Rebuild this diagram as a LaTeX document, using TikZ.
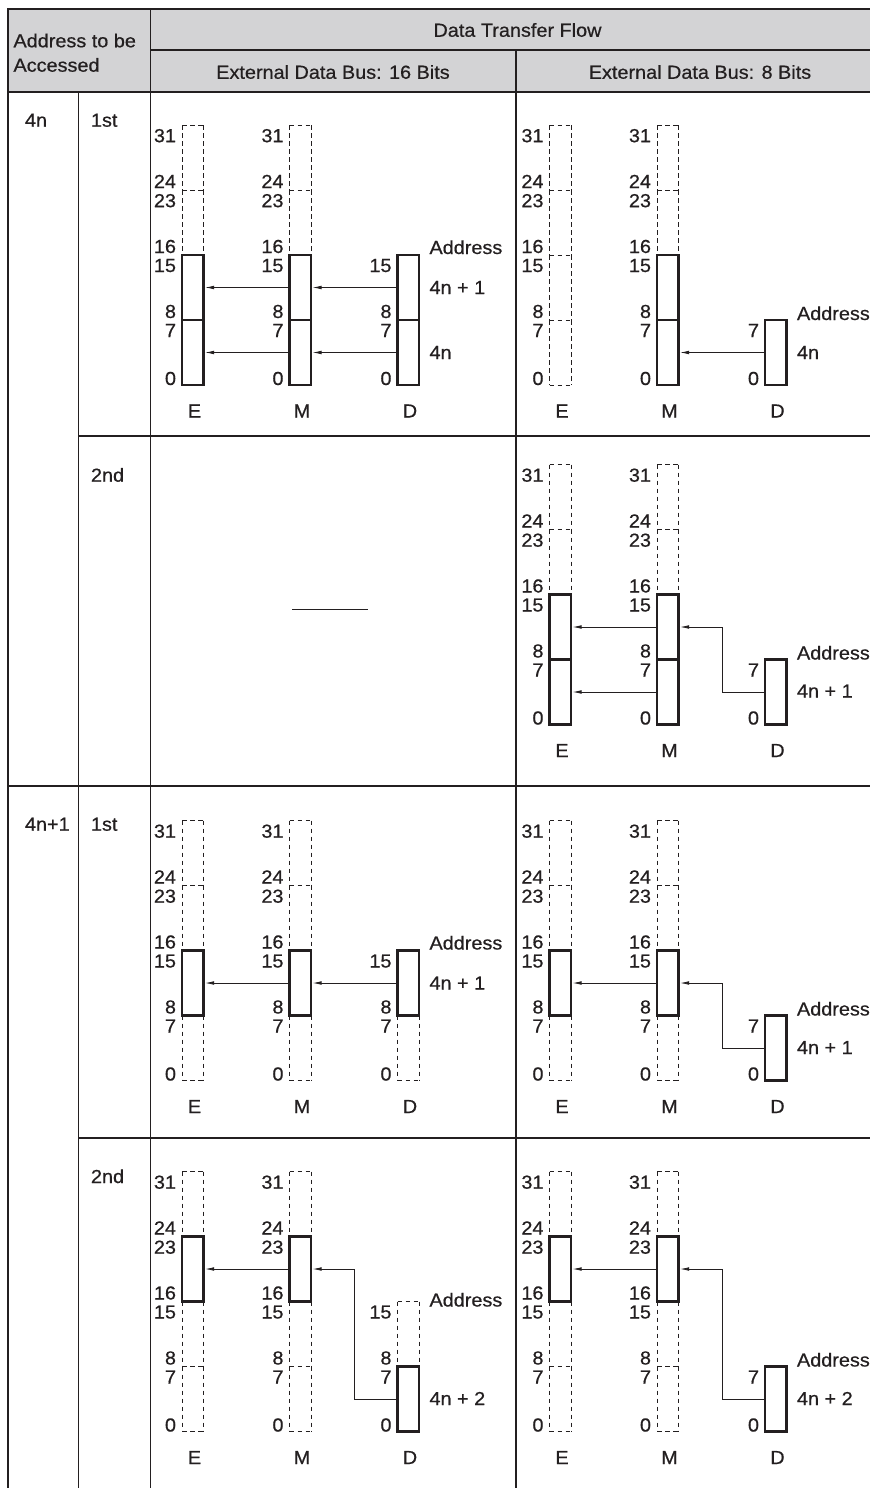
\documentclass[tikz,border=0pt]{standalone}
\usepackage{fontspec}
\setmainfont{Liberation Sans}[FakeStretch=1.05,FakeBold=0.6]
\usetikzlibrary{arrows.meta}
\definecolor{ink}{RGB}{35,31,32}
\definecolor{hdr}{RGB}{211,211,213}
\tikzset{
  tline/.style={draw=ink, line width=1.2pt},
  hline/.style={draw=ink, line width=1.6pt},
  outer/.style={draw=ink, line width=2.4pt},
  dashbox/.style={draw=ink, line width=0.9pt, dash pattern=on 4.5pt off 3.5pt},
  solidbox/.style={draw=ink, line width=2.2pt},
  arr/.style={draw=ink, line width=0.8pt, -{Latex[length=9pt,width=3.6pt]}},
  lbl/.style={inner sep=0pt, outer sep=0pt, text=ink},
}
\newcommand{\lo}[4]{\node[lbl, anchor=north east] (#1) at ({#2-6},{#3+4}) {#4};}
\newcommand{\hi}[4]{\node[lbl, anchor=base east] (#1) at ({#2-6},{#3-2}) {#4};}
\newcommand{\lblfull}[3]{%
  \lo{#1-31}{#2}{#3}{31}\hi{#1-24}{#2}{#3+65}{24}\lo{#1-23}{#2}{#3+65}{23}%
  \hi{#1-16}{#2}{#3+130}{16}\lo{#1-15}{#2}{#3+130}{15}%
  \hi{#1-8}{#2}{#3+195}{8}\lo{#1-7}{#2}{#3+195}{7}%
  \node[lbl, anchor=base east] (#1-0) at ({#2-6},{#3+260}) {0};}
\newcommand{\lblsixteen}[3]{%
  \lo{#1-15}{#2}{#3+130}{15}%
  \hi{#1-8}{#2}{#3+195}{8}\lo{#1-7}{#2}{#3+195}{7}%
  \node[lbl, anchor=base east] (#1-0) at ({#2-6},{#3+260}) {0};}
\newcommand{\lbleight}[3]{%
  \lo{#1-7}{#2}{#3+195}{7}%
  \node[lbl, anchor=base east] (#1-0) at ({#2-6},{#3+260}) {0};}
% #1 name, #2 x, #3 top, #4 dashed bytes, #5 solid bytes, #6 label set, #7 letter
\newcommand{\register}[7]{%
  \if\relax\detokenize{#4}\relax\else
    \foreach \byt in {#4} {%
      \pgfmathsetmacro\yt{#3+(3-\byt)*65}%
      \draw[dashbox] (#2,\yt) -- ++(21.5,0);
      \draw[dashbox] (#2,\yt) -- ++(0,65);
      \draw[dashbox] ({#2+21.5},\yt) -- ++(0,65);
      \ifnum\byt=0 \draw[dashbox] (#2,{\yt+65}) -- ++(21.5,0);\fi
    }%
  \fi
  \if\relax\detokenize{#5}\relax\else
    \foreach \byt in {#5} {\draw[solidbox] (#2,{#3+(3-\byt)*65}) rectangle ++(21.5,65);}%
  \fi
  \foreach \byt in {0,1,2,3} {%
    \coordinate (#1-l\byt) at (#2,{#3+(3.5-\byt)*65});
    \coordinate (#1-r\byt) at ({#2+23},{#3+(3.5-\byt)*65});
  }%
  \csname lbl#6\endcsname{#1}{#2}{#3}%
  \node[lbl] (#1-name) at ({#2+12.5},{#3+286}) {#7};
}
\begin{document}
\begin{tikzpicture}[x=1pt,y=-1pt, every node/.style={font=\fontsize{18.9}{21}\selectfont}]
\useasboundingbox (0,0) rectangle (870,1488);
% ---------- table ----------
\fill[hdr] (8,9) rectangle (870,92);
\draw[tline] (150.5,50) -- (870,50);
\draw[tline] (150.5,9) -- (150.5,1488);
\draw[tline] (516,50) -- (516,1488);
\draw[tline] (78.3,92) -- (78.3,1488);
\draw[tline] (78.3,436) -- (870,436);
\draw[tline] (8,786) -- (870,786);
\draw[tline] (78.3,1138) -- (870,1138);
\draw[hline] (8,92) -- (870,92);
\draw[outer] (8,1488) -- (8,9) -- (870,9);
\node[lbl, anchor=base west] (hA1) at (13.5,47.3) {Address to be};
\node[lbl, anchor=base west] (hA2) at (13.5,71.7) {Accessed};
\node[lbl] (hflow) at (517.5,30) {Data Transfer Flow};
\node[lbl] (h16) at (333,72) {External Data Bus: 16 Bits};
\node[lbl] (h8) at (700,72) {External Data Bus: 8 Bits};
\node[lbl, anchor=base west] (r4n) at (25,126.7) {4n};
\node[lbl, anchor=base west] (r1a) at (91,126.7) {1st};
\node[lbl, anchor=base west] (r2a) at (91,481.7) {2nd};
\node[lbl, anchor=base west] (r4n1) at (25,830.7) {4n+1};
\node[lbl, anchor=base west] (r1b) at (91,830.7) {1st};
\node[lbl, anchor=base west] (r2b) at (91,1183) {2nd};
% ---------- panel A : 4n 1st, 16 bit ----------
\register{AE}{182}{125}{3,2}{1,0}{full}{E}
\register{AM}{289.5}{125}{3,2}{1,0}{full}{M}
\register{AD}{397.5}{125}{}{1,0}{sixteen}{D}
\draw[arr] (AD-l1) -- (AM-r1);
\draw[arr] (AD-l0) -- (AM-r0);
\draw[arr] (AM-l1) -- (AE-r1);
\draw[arr] (AM-l0) -- (AE-r0);
\node[lbl, anchor=base west] (Aadr) at (429.5,254) {Address};
\node[lbl, anchor=west] (Aa1) at (429.5,287.5) {4n + 1};
\node[lbl, anchor=west] (Aa0) at (429.5,352.5) {4n};
% ---------- panel B : 4n 1st, 8 bit ----------
\register{BE}{549.5}{125}{3,2,1,0}{}{full}{E}
\register{BM}{657}{125}{3,2}{1,0}{full}{M}
\register{BD}{765}{125}{}{0}{eight}{D}
\draw[arr] (BD-l0) -- (BM-r0);
\node[lbl, anchor=base west] (Badr) at (797,320) {Address};
\node[lbl, anchor=west] (Ba0) at (797,352.5) {4n};
% ---------- panel C : 4n 2nd, 16 bit ----------
\coordinate (Cl) at (292,609);
\coordinate (Cr) at (368,609);
\draw[ink, line width=1pt] (Cl) -- (Cr);
% ---------- panel D : 4n 2nd, 8 bit ----------
\register{DE}{549.5}{464.5}{3,2}{1,0}{full}{E}
\register{DM}{657}{464.5}{3,2}{1,0}{full}{M}
\register{DD}{765}{464.5}{}{0}{eight}{D}
\draw[arr] (DM-l1) -- (DE-r1);
\draw[arr] (DM-l0) -- (DE-r0);
\draw[arr] (DD-l0) -- ++(-43,0) |- (DM-r1);
\node[lbl, anchor=base west] (Dadr) at (797,659.5) {Address};
\node[lbl, anchor=west] (Da0) at (797,691) {4n + 1};
% ---------- panel E : 4n+1 1st, 16 bit ----------
\register{EE}{182}{820.5}{3,2,0}{1}{full}{E}
\register{EM}{289.5}{820.5}{3,2,0}{1}{full}{M}
\register{ED}{397.5}{820.5}{0}{1}{sixteen}{D}
\draw[arr] (ED-l1) -- (EM-r1);
\draw[arr] (EM-l1) -- (EE-r1);
\node[lbl, anchor=base west] (Eadr) at (429.5,949.5) {Address};
\node[lbl, anchor=west] (Ea1) at (429.5,983) {4n + 1};
% ---------- panel F : 4n+1 1st, 8 bit ----------
\register{FE}{549.5}{820.5}{3,2,0}{1}{full}{E}
\register{FM}{657}{820.5}{3,2,0}{1}{full}{M}
\register{FD}{765}{820.5}{}{0}{eight}{D}
\draw[arr] (FD-l0) -- ++(-43,0) |- (FM-r1);
\draw[arr] (FM-l1) -- (FE-r1);
\node[lbl, anchor=base west] (Fadr) at (797,1015.5) {Address};
\node[lbl, anchor=west] (Fa0) at (797,1047.5) {4n + 1};
% ---------- panel G : 4n+1 2nd, 16 bit ----------
\register{GE}{182}{1171.5}{3,1,0}{2}{full}{E}
\register{GM}{289.5}{1171.5}{3,1,0}{2}{full}{M}
\register{GD}{397.5}{1171.5}{1}{0}{sixteen}{D}
\draw[arr] (GD-l0) -- ++(-43,0) |- (GM-r2);
\draw[arr] (GM-l2) -- (GE-r2);
\node[lbl, anchor=base west] (Gadr) at (429.5,1306.5) {Address};
\node[lbl, anchor=west] (Ga0) at (429.5,1398.5) {4n + 2};
% ---------- panel H : 4n+1 2nd, 8 bit ----------
\register{HE}{549.5}{1171.5}{3,1,0}{2}{full}{E}
\register{HM}{657}{1171.5}{3,1,0}{2}{full}{M}
\register{HD}{765}{1171.5}{}{0}{eight}{D}
\draw[arr] (HD-l0) -- ++(-43,0) |- (HM-r2);
\draw[arr] (HM-l2) -- (HE-r2);
\node[lbl, anchor=base west] (Hadr) at (797,1366.5) {Address};
\node[lbl, anchor=west] (Ha0) at (797,1398.5) {4n + 2};
\end{tikzpicture}
\end{document}
